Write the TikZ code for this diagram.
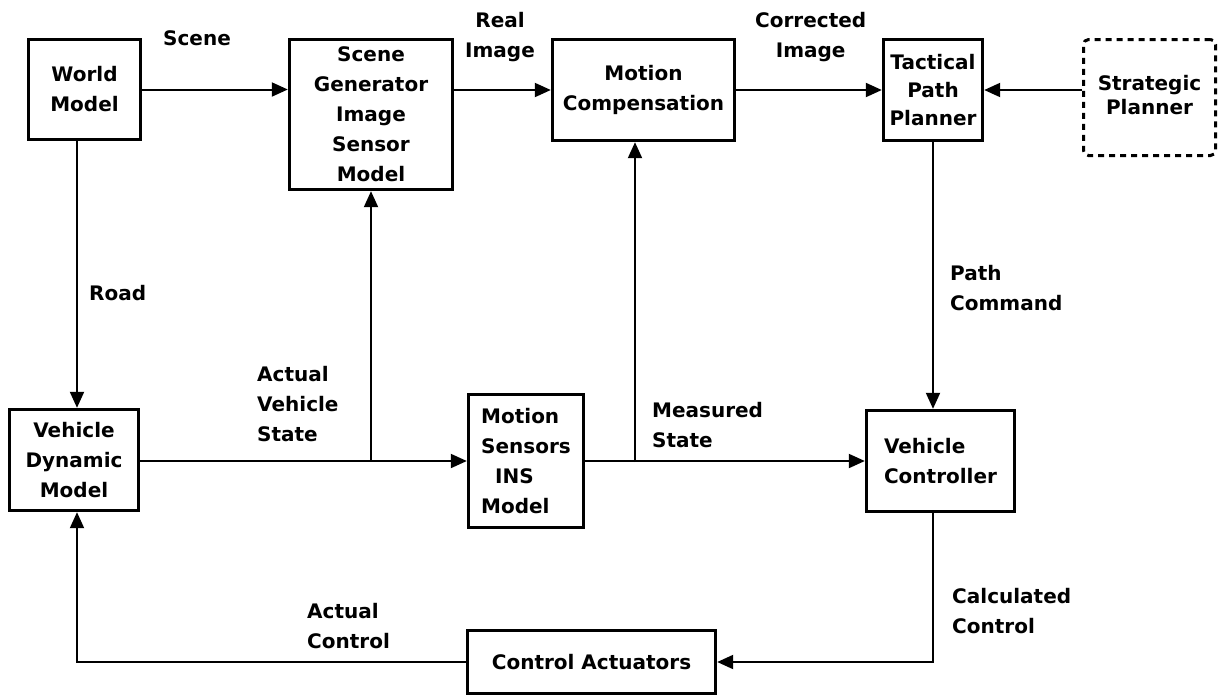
\documentclass[tikz,border=0pt]{standalone}
\usepackage{fontspec}
\setmainfont{DejaVu Sans}
\usetikzlibrary{arrows.meta}

\begin{document}
\begin{tikzpicture}[x=1pt,y=-1pt,
  every node/.style={font=\bfseries\fontsize{20}{30}\selectfont, inner sep=0pt},
  blk/.style={draw, line width=3.4pt, rectangle, align=center},
  planbox/.style={draw, line width=3pt, rectangle, rounded corners=5pt,
    dash pattern=on 6pt off 5pt, align=center},
  lbl/.style={anchor=west, align=left},
  conn/.style={line width=2pt, -{Triangle[length=16pt,width=14pt]}},
  wire/.style={line width=2pt}]
\useasboundingbox (0,0) rectangle (1225,697);

% processing blocks
\node[blk, minimum width=112pt, minimum height=100pt] (world) at (84.5,89.5) {World\\Model};
\node[blk, minimum width=163pt, minimum height=150pt] (scene) at (371,114.5)
  {Scene\\Generator\\Image\\Sensor\\Model};
\node[blk, minimum width=182pt, minimum height=101pt] (mcomp) at (643.5,90) {Motion\\Compensation};
\node[blk, minimum width=99pt, minimum height=101pt,
  font=\bfseries\fontsize{20}{28}\selectfont] (tact) at (933,90) {Tactical\\Path\\Planner};
\node[planbox, minimum width=132pt, minimum height=116pt,
  font=\bfseries\fontsize{20}{24}\selectfont] (strat) at (1149.5,97.5)
  {\raisebox{5pt}{\shortstack{Strategic\\[2pt]Planner}}};
\node[blk, minimum width=129pt, minimum height=101pt] (vdm) at (74,460) {Vehicle\\Dynamic\\Model};
\node[blk, minimum width=115pt, minimum height=133pt, align=left] (ms) at (526,461)
  {Motion\\Sensors\\\hspace{14pt}INS\\Model};
\node[blk, minimum width=148pt, minimum height=101pt, align=left] (vc) at (940.5,461)
  {Vehicle\\Controller};
\node[blk, minimum width=248pt, minimum height=63pt] (ca) at (591.5,662) {Control Actuators};

% signal labels
\node[lbl] (lscene) at (163,38) {Scene};
\node[anchor=west, align=center] (lreal) at (465,37) {Real\\Image};
\node[anchor=west, align=center] (lcorr) at (755,37) {Corrected\\Image};
\node[lbl] (lroad) at (89,293) {Road};
\node[lbl] (lavs) at (257,404) {Actual\\Vehicle\\State};
\node[lbl] (lmeas) at (652,425) {Measured\\State};
\node[lbl] (lpath) at (950,288) {Path\\Command};
\node[lbl] (lact) at (307,626) {Actual\\Control};
\node[lbl] (lcalc) at (952,611) {Calculated\\Control};

% helper points for the off-centre wires
\coordinate (roadx) at (77,0);
\coordinate (tap) at (635,462);

% connectors
\draw[conn] (world.east) -- (world.east -| scene.west);
\draw[conn] (scene.east |- mcomp.west) -- (mcomp.west);
\draw[conn] (mcomp.east) -- (tact.west);
\draw[conn] (strat.west |- tact.east) -- (tact.east);
\draw[conn] (world.south -| roadx) -- (vdm.north -| roadx);
\draw[conn] (vdm.east |- ms.west) -- (ms.west);
\draw[conn] (scene.south |- ms.west) -- (scene.south);
\draw[conn] (ms.east) -- (vc.west |- ms.east);
\draw[conn] (tap) -- (mcomp.south -| tap);
\draw[conn] (tact.south) -- (vc.north -| tact.south);
\draw[conn] (vc.south -| tact.south) |- (ca.east);
\draw[conn] (ca.west) -| (vdm.south -| roadx);
\end{tikzpicture}
\end{document}
